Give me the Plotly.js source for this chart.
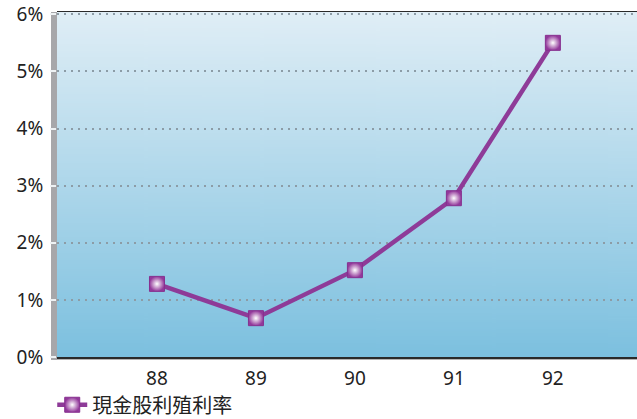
<!DOCTYPE html>
<html><head><meta charset="utf-8">
<script src="https://cdn.plot.ly/plotly-3.0.1.min.js"></script>
<style>html,body{margin:0;padding:0;background:#fff}#chart{width:637px;height:419px}</style>
</head><body><div id="chart"></div>
<script>
const years = ['88','89','90','91','92'];
const yieldPct = [1.28, 0.68, 1.52, 2.78, 5.5];
const seriesName = '現金股利殖利率';
const yTicks = [0,1,2,3,4,5,6];

const cv = document.createElement('canvas');
cv.width = 10; cv.height = 300;
const ctx = cv.getContext('2d');
const g = ctx.createLinearGradient(0,0,0,300);
g.addColorStop(0,'#e0eef6');
g.addColorStop(1,'#7cc0df');
ctx.fillStyle = g; ctx.fillRect(0,0,10,300);
const bg = cv.toDataURL();

const trace = {
  x: years, y: yieldPct, name: seriesName, type: 'scatter', mode: 'lines+markers',
  line: {color: '#8e3b98', width: 4.5},
  marker: {symbol: 'square', size: 15, color: '#93399b',
    gradient: {type: 'radial', color: '#ffffff'},
    line: {color: '#86308f', width: 1}}
};

const layout = {
  width: 637, height: 419,
  margin: {l: 57, r: 0, t: 12, b: 62, autoexpand: false},
  paper_bgcolor: '#ffffff', plot_bgcolor: 'rgba(0,0,0,0)',
  font: {family: '"Noto Sans", "Noto Sans CJK TC", sans-serif', color: '#222', size: 19},
  showlegend: true,
  legend: {orientation: 'h', x: 0.082, xref: 'container', xanchor: 'left', y: 0.034, yref: 'container', yanchor: 'middle',
    font: {family: '"Noto Sans CJK TC", sans-serif', size: 20, color: '#222'},
    bgcolor: 'rgba(0,0,0,0)', borderwidth: 0},
  xaxis: {type: 'category', range: [-1.01, 4.85], showgrid: false, zeroline: false,
    showline: true, linecolor: '#2a2a2a', linewidth: 1.5, mirror: true,
    ticks: '', ticklabelstandoff: 4, tickfont: {size: 19}},
  yaxis: {range: [0, 6.04], tickvals: yTicks, ticktext: yTicks.map(v => v + '%'),
    showgrid: true, gridcolor: '#8c9ca6', gridwidth: 2, griddash: '2px,5px',
    zeroline: false, showline: false,
    ticks: 'outside', ticklen: 6, tickcolor: '#eef2f4', tickwidth: 2,
    ticklabelstandoff: 3, tickfont: {size: 19}},
  images: [{source: bg, xref: 'paper', yref: 'paper', x: 0, y: 1, sizex: 1, sizey: 1,
    sizing: 'stretch', layer: 'below', xanchor: 'left', yanchor: 'top'}],
  shapes: [
    {type: 'rect', xref: 'paper', yref: 'paper', x0: -6/580, x1: 0, y0: -3/345, y1: 1,
      fillcolor: '#a7a7aa', line: {width: 0}, layer: 'below'},
    {type: 'line', xref: 'paper', yref: 'paper', x0: 0, x1: 1, y0: -2/345, y1: -2/345,
      line: {color: '#9a9a9a', width: 1.5}, layer: 'below'}
  ]
};

Plotly.newPlot('chart', [trace], layout, {displayModeBar: false, staticPlot: true});
</script></body></html>
